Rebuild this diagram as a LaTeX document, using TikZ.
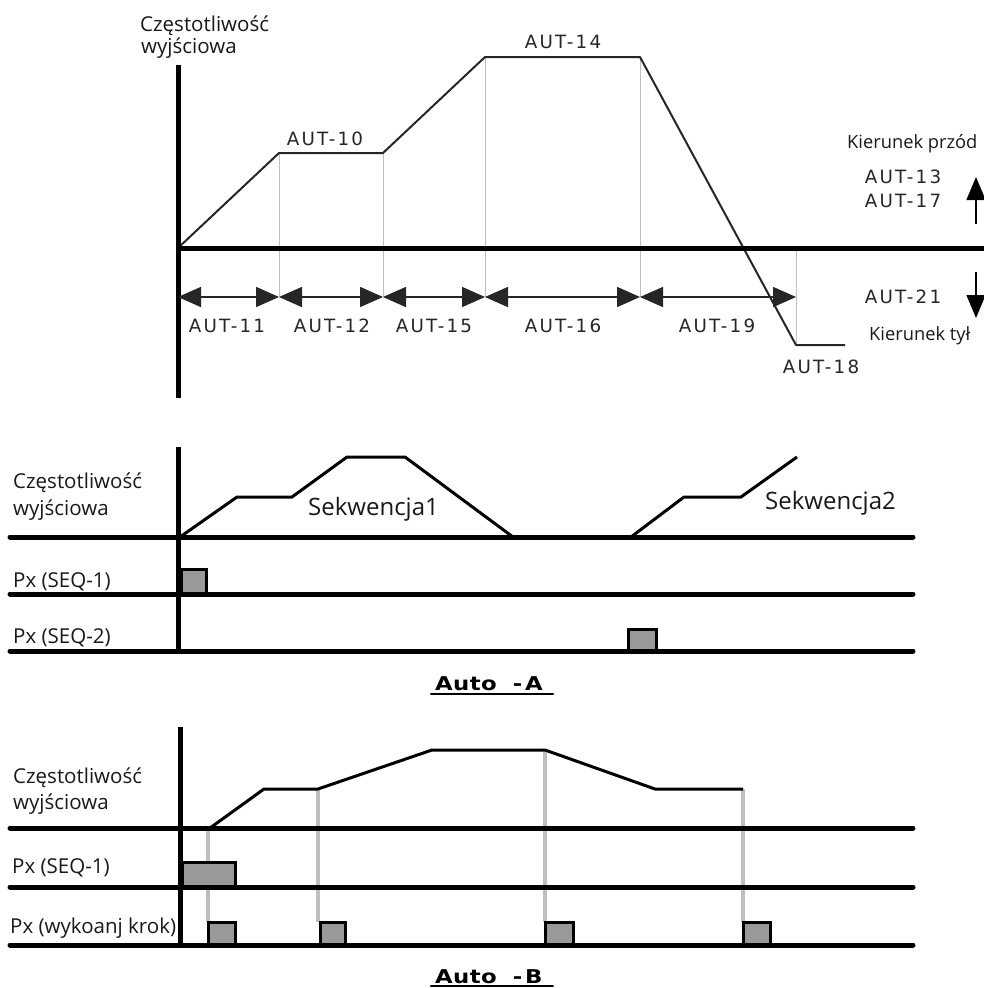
\documentclass[tikz,border=0pt]{standalone}
\usepackage{fontspec}
\usetikzlibrary{arrows.meta}
\newfontfamily\lblfont{Open Sans}
\newfontfamily\autfont[LetterSpace=12]{DejaVu Sans}
\newfontfamily\autbfont[FakeStretch=1.2,LetterSpace=2]{DejaVu Sans}
\begin{document}
\begin{tikzpicture}[x=1pt,y=-1pt,
  axisline/.style={line width=5pt,black},
  curve/.style={line width=2pt,black!85,line join=round},
  guide/.style={line width=1pt,black!25},
  dim/.style={line width=1.5pt,black!85,{Triangle[length=23pt,width=20pt]}-{Triangle[length=23pt,width=20pt]}},
  dirarrow/.style={line width=1.5pt,-{Triangle[length=23pt,width=19pt]}},
  tline/.style={line width=5pt,line cap=round},
  wave/.style={line width=3pt,line join=round},
  vguide/.style={line width=3.5pt,black!25},
  pulse/.style={draw=black,line width=3pt,fill=black!40},
  lbl/.style={font=\lblfont\fontsize{20.5}{24}\selectfont,inner sep=0pt,anchor=base west,text=black!90},
  seklbl/.style={font=\lblfont\fontsize{24}{28}\selectfont,inner sep=0pt,anchor=base west,text=black!90},
  dirlbl/.style={font=\lblfont\fontsize{18.3}{21}\selectfont,inner sep=0pt,anchor=base west,text=black!90},
  aut/.style={font=\autfont\fontsize{18.3}{21}\selectfont,inner sep=0pt,anchor=base,text=black!85},
  autob/.style={font=\autbfont\bfseries\fontsize{19}{22}\selectfont,inner sep=0pt,anchor=base west,text=black}]
\useasboundingbox (0,0) rectangle (984,988);
\fill[white] (0,0) rectangle (984,988);

% ===== top graph =====
\coordinate (o) at (178,248);
\coordinate (p1) at (279,153);
\coordinate (p2) at (383,153);
\coordinate (p3) at (485,57);
\coordinate (p4) at (640,57);
\coordinate (p5) at (796,345);
\coordinate (p6) at (845,345);
\coordinate (a0) at (178,297);
\coordinate (a1) at (279,297);
\coordinate (a2) at (383,297);
\coordinate (a3) at (485,297);
\coordinate (a4) at (640,297);
\coordinate (a5) at (796,297);
\coordinate (g5) at (796,250);
\coordinate (vtop) at (178,65);
\coordinate (vbot) at (178,398);
\coordinate (hend) at (984,248);

\draw[guide] (p1) -- (a1);
\draw[guide] (p2) -- (a2);
\draw[guide] (p3) -- (a3);
\draw[guide] (p4) -- (a4);
\draw[guide] (g5) -- (p5);

\draw[curve] (o) -- (p1) -- (p2) -- (p3) -- (p4) -- (p5) -- (p6);

\draw[axisline] (vtop) -- (vbot);
\draw[axisline] (o) -- (hend);

\draw[dim] (a0) -- (a1);
\draw[dim] (a1) -- (a2);
\draw[dim] (a2) -- (a3);
\draw[dim] (a3) -- (a4);
\draw[dim] (a4) -- (a5);

\node[lbl] (t1) at (140,31) {Częstotliwość};
\node[lbl] (t2) at (141,53) {wyjściowa};

\node[aut] (l10) at (325,145) {AUT-10};
\node[aut] (l14) at (563,48) {AUT-14};
\node[aut] (l11) at (227,332) {AUT-11};
\node[aut] (l12) at (332,332) {AUT-12};
\node[aut] (l15) at (434,332) {AUT-15};
\node[aut] (l16) at (563,332) {AUT-16};
\node[aut] (l19) at (717,332) {AUT-19};
\node[aut] (l18) at (821,373) {AUT-18};
\node[aut] (l13) at (903,183) {AUT-13};
\node[aut] (l17) at (903,207) {AUT-17};
\node[aut] (l21) at (903,303) {AUT-21};
\node[dirlbl] (kp) at (847,148) {Kierunek przód};
\node[dirlbl] (kt) at (869,340) {Kierunek tył};

\coordinate (upS) at (976,224);
\coordinate (upE) at (976,177);
\coordinate (dnS) at (976,272);
\coordinate (dnE) at (976,318);
\draw[dirarrow] (upS) -- (upE);
\draw[dirarrow] (dnS) -- (dnE);

% ===== Auto-A =====
\coordinate (m0) at (180,537);
\coordinate (m1) at (237,497);
\coordinate (m2) at (292,497);
\coordinate (m3) at (347,457);
\coordinate (m4) at (405,457);
\coordinate (m5) at (513,537);
\coordinate (n0) at (631,537);
\coordinate (n1) at (684,497);
\coordinate (n2) at (741,497);
\coordinate (n3) at (797,457);

\draw[wave] (m0) -- (m1) -- (m2) -- (m3) -- (m4) -- (m5);
\draw[wave] (n0) -- (n1) -- (n2) -- (n3);

\draw[pulse] (181.5,569.5) rectangle (206.5,594);
\draw[pulse] (628.5,629.5) rectangle (656.5,651);

\coordinate (ma) at (10,537);
\coordinate (mb) at (913,537);
\coordinate (mc) at (10,594);
\coordinate (md) at (913,594);
\coordinate (me) at (10,651);
\coordinate (mf) at (913,651);
\draw[tline] (ma) -- (mb);
\draw[tline] (mc) -- (md);
\draw[tline] (me) -- (mf);
\coordinate (mvt) at (178,447);
\coordinate (mvb) at (178,652);
\draw[axisline] (mvt) -- (mvb);

\node[lbl] (ma1) at (13,488) {Częstotliwość};
\node[lbl] (ma2) at (13,515) {wyjściowa};
\node[lbl] (ma3) at (13,587) {Px (SEQ-1)};
\node[lbl] (ma4) at (13,643) {Px (SEQ-2)};
\node[seklbl] (sk1) at (308,515) {Sekwencja1};
\node[seklbl] (sk2) at (765,509) {Sekwencja2};

\node[autob] (autoA) at (435,690) {Auto\hspace{16pt}-\hspace{3pt}A};
\draw[line width=2.5pt,line cap=round] ([xshift=-4pt,yshift=-4pt]autoA.base west) -- ([xshift=10pt,yshift=-4pt]autoA.base east);

% ===== Auto-B =====
\coordinate (b0) at (210,828);
\coordinate (b1) at (264,789);
\coordinate (b2) at (318,789);
\coordinate (b3) at (432,750);
\coordinate (b4) at (545,750);
\coordinate (b5) at (655,789);
\coordinate (b6) at (743,789);

\coordinate (s1) at (208,922);
\coordinate (s2) at (318,922);
\coordinate (s3) at (545,922);
\coordinate (s4) at (743,922);
\coordinate (s0) at (208,828);
\draw[vguide] (s0) -- (s1);
\draw[vguide] (b2) -- (s2);
\draw[vguide] (b4) -- (s3);
\draw[vguide] (b6) -- (s4);

\draw[wave] (b0) -- (b1) -- (b2) -- (b3) -- (b4) -- (b5) -- (b6);

\draw[pulse] (182.5,862.5) rectangle (235.5,887);
\draw[pulse] (208.5,922.5) rectangle (235.5,945);
\draw[pulse] (320.5,922.5) rectangle (345.5,945);
\draw[pulse] (545.5,922.5) rectangle (573.5,945);
\draw[pulse] (743.5,922.5) rectangle (770.5,945);

\coordinate (ba) at (10,828);
\coordinate (bb) at (913,828);
\coordinate (bc) at (10,887);
\coordinate (bd) at (913,887);
\coordinate (be) at (10,945);
\coordinate (bf) at (913,945);
\draw[tline] (ba) -- (bb);
\draw[tline] (bc) -- (bd);
\draw[tline] (be) -- (bf);
\coordinate (bvt) at (180,727);
\coordinate (bvb) at (180,945);
\draw[axisline] (bvt) -- (bvb);

\node[lbl] (mb1) at (13,783) {Częstotliwość};
\node[lbl] (mb2) at (13,809) {wyjściowa};
\node[lbl] (mb3) at (12,873) {Px (SEQ-1)};
\node[lbl] (mb4) at (10,933) {Px (wykoanj krok)};

\node[autob] (autoB) at (435,983) {Auto\hspace{16pt}-\hspace{3pt}B};
\draw[line width=2.5pt,line cap=round] ([xshift=-4pt,yshift=-3pt]autoB.base west) -- ([xshift=10pt,yshift=-3pt]autoB.base east);
\end{tikzpicture}
\end{document}
